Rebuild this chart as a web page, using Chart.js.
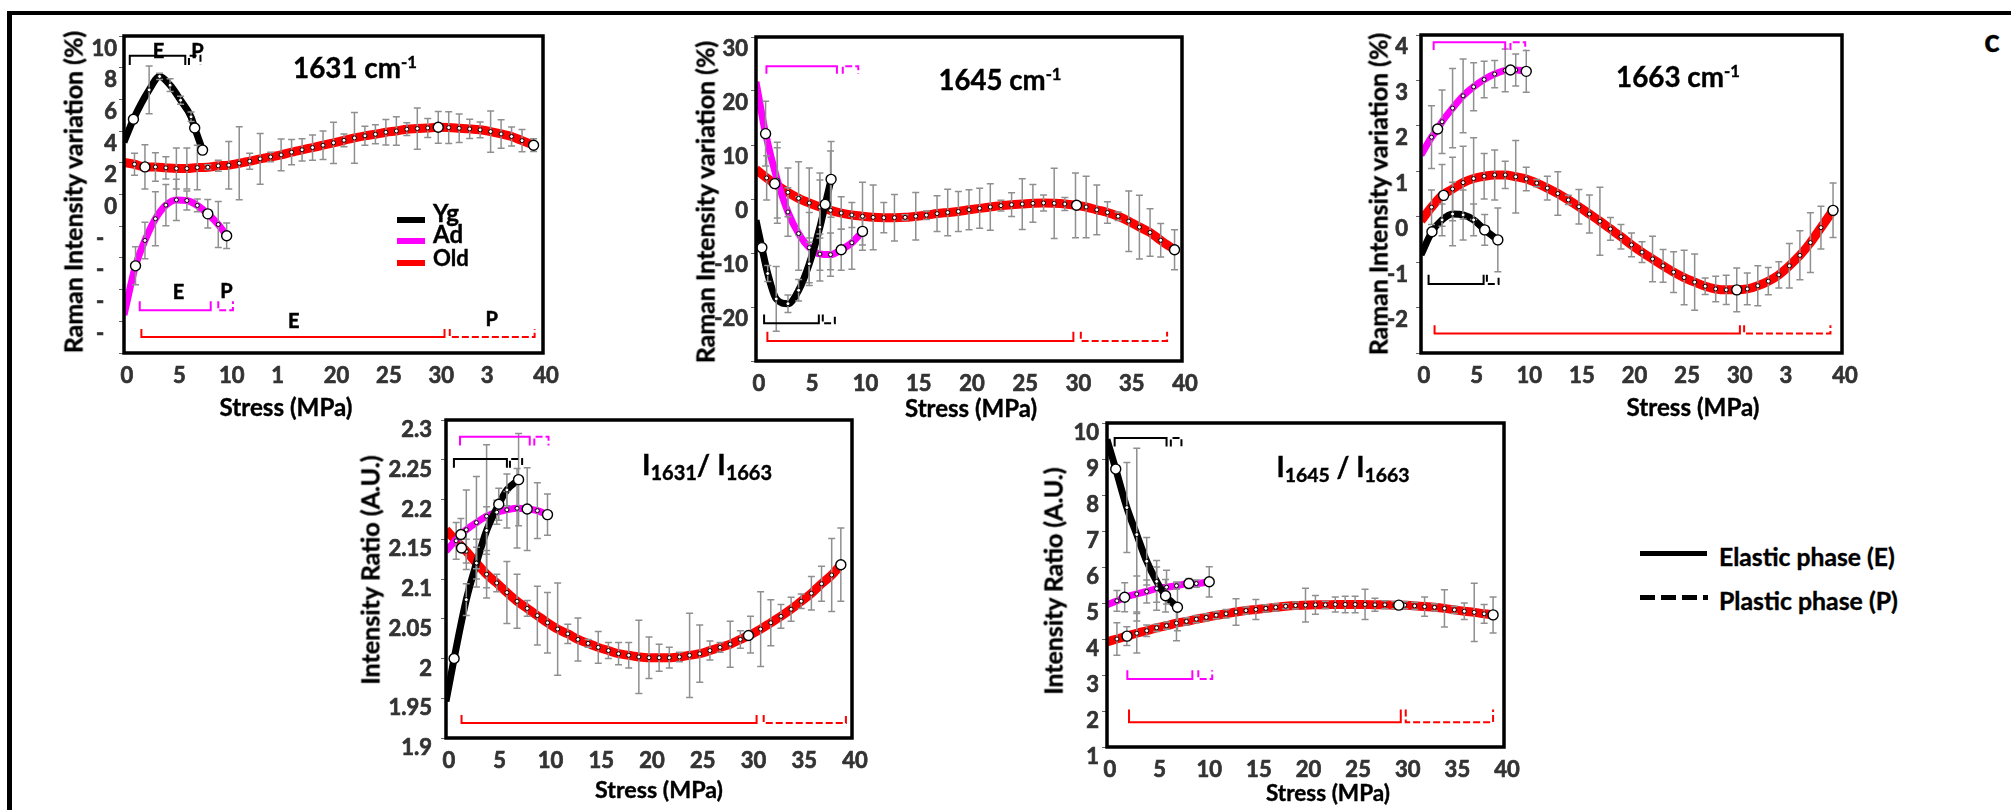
<!DOCTYPE html>
<html lang="en">
<head>
<meta charset="utf-8">
<title>Raman intensity variation vs stress</title>
<script src="https://cdn.jsdelivr.net/npm/chart.js@4.4.1/dist/chart.umd.min.js"></script>
<style>
  html, body { margin: 0; padding: 0; background: #fff; }
  body { position: relative; width: 2011px; height: 810px; overflow: hidden;
         font-family: Lato, "Open Sans", sans-serif; font-weight: 700; color: #000; }
  .sheet { position: absolute; left: 7px; top: 11px; width: 2100px; height: 900px;
           border-top: 4px solid #000; border-left: 5px solid #000; }
  canvas { position: absolute; }
  .t { position: absolute; line-height: 1; white-space: nowrap; transform: translate(-50%, -50%);
       -webkit-text-stroke: 0.4px #000; font-size: 24px; }
  .yt { transform: translate(-50%, -50%) rotate(-90deg); }
  .t sup { font-size: 0.6em; position: relative; top: -0.6em; vertical-align: baseline; line-height: 0; }
  .t sub { font-size: 0.7em; position: relative; top: 0.25em; vertical-align: baseline; line-height: 0; }
  .key { position: absolute; }
  .keytext { position: absolute; line-height: 1; transform: translateY(-50%); white-space: nowrap;
             -webkit-text-stroke: 0.4px #000; font-size: 24px; }
</style>
</head>
<body>
<div class="sheet"></div>

<canvas id="p1"></canvas>
<canvas id="p2"></canvas>
<canvas id="p3"></canvas>
<canvas id="p4"></canvas>
<canvas id="p5"></canvas>

<!-- panel titles (data-fit = printed width in px) -->
<div class="t" data-fit="124" style="left:355px;top:68px">1631 cm<sup>-1</sup></div>
<div class="t" data-fit="123" style="left:1000px;top:80px">1645 cm<sup>-1</sup></div>
<div class="t" data-fit="124" style="left:1678px;top:77px">1663 cm<sup>-1</sup></div>
<div class="t" data-fit="130" style="left:707px;top:464px">I<sub>1631</sub>/ I<sub>1663</sub></div>
<div class="t" data-fit="133" style="left:1343px;top:467px">I<sub>1645</sub> / I<sub>1663</sub></div>

<!-- axis titles -->
<div class="t yt" data-fit="323" style="left:73px;top:192px">Raman Intensity variation (%)</div>
<div class="t yt" data-fit="323" style="left:705px;top:202px">Raman Intensity variation (%)</div>
<div class="t yt" data-fit="323" style="left:1378px;top:194px">Raman Intensity variation (%)</div>
<div class="t yt" data-fit="230" style="left:370px;top:570px">Intensity Ratio (A.U.)</div>
<div class="t yt" data-fit="228" style="left:1053px;top:581px">Intensity Ratio (A.U.)</div>
<div class="t" data-fit="133" style="left:286px;top:407px">Stress (MPa)</div>
<div class="t" data-fit="132" style="left:971px;top:408px">Stress (MPa)</div>
<div class="t" data-fit="133" style="left:1693px;top:407px">Stress (MPa)</div>
<div class="t" data-fit="128" style="left:659px;top:790px">Stress (MPa)</div>
<div class="t" data-fit="124" style="left:1328px;top:793px">Stress (MPa)</div>

<!-- age legend inside first panel -->
<div class="key" style="left:397px;top:217px;width:28px;height:6px;background:#000"></div>
<div class="key" style="left:397px;top:238px;width:28px;height:6px;background:#ff00ff"></div>
<div class="key" style="left:397px;top:260px;width:28px;height:6px;background:#ff0000"></div>
<div class="keytext" style="left:433px;top:213px">Yg</div>
<div class="keytext" style="left:433px;top:234px">Ad</div>
<div class="keytext" data-fit="36" style="left:433px;top:258px">Old</div>

<!-- phase legend -->
<div class="key" style="left:1640px;top:551px;width:67px;height:5px;background:#000"></div>
<div class="key" style="left:1640px;top:595px;width:68px;height:5px;background:repeating-linear-gradient(to right,#000 0 15px,transparent 15px 21px)"></div>
<div class="keytext" data-fit="176" style="left:1719px;top:557px">Elastic phase (E)</div>
<div class="keytext" data-fit="179" style="left:1719px;top:600px">Plastic phase (P)</div>

<div class="t" style="left:1992px;top:40px;font-size:32px">c</div>

<script>
// ---------- data ----------
// panel 1 : 1631 cm-1, intensity variation (%)
const p1OldStress = [0, 1, 2, 3, 4, 5, 6, 7, 8, 9, 10, 11, 12, 13, 14, 15, 16, 17, 18, 19, 20, 21, 22, 23, 24, 25, 26, 27, 28, 29, 30, 31, 32, 33, 34, 35, 36, 37, 38, 39.1];
const p1OldValue = [2.02, 1.91, 1.74, 1.74, 1.68, 1.64, 1.64, 1.70, 1.72, 1.81, 1.85, 1.97, 2.10, 2.25, 2.37, 2.50, 2.67, 2.82, 2.96, 3.11, 3.26, 3.42, 3.57, 3.70, 3.80, 3.93, 4.01, 4.12, 4.16, 4.20, 4.24, 4.22, 4.18, 4.14, 4.08, 3.97, 3.82, 3.66, 3.40, 3.11];
const p1OldError = [null, 0.7, 1.4, 0.9, 0.7, 1.3, 1.3, 1.4, 0.15, 0.35, 1.5, 2.3, 0.5, 1.6, 0.3, 1.0, 0.8, 0.7, 0.8, 0.9, 1.3, 0.4, 1.6, 0.6, 0.6, 0.8, 0.9, 0.4, 1.3, 0.6, 1.0, 1.0, 0.9, 0.6, 0.5, 1.3, 0.9, 0.6, 0.7, 0.4];
const p1OldMarkX = [2, 30, 39.1];
const p1OldMarkY = [1.74, 4.24, 3.11];
const p1YgStress = [0, 0.9, 2.4, 3.4, 4.4, 5.4, 6.4, 6.75, 7.5];
const p1YgValue = [3.3, 4.75, 6.6, 7.45, 6.9, 5.95, 4.9, 4.2, 2.8];
const p1YgError = [null, null, 1.5, 0.2, 0.4, 0.25, 0.3, null, 0.25];
const p1YgMarkX = [0.9, 6.75, 7.5];
const p1YgMarkY = [4.75, 4.2, 2.8];
const p1AdStress = [0, 1.1, 2, 3, 4, 5, 6, 7, 8, 9, 9.8];
const p1AdValue = [-7.6, -4.5, -2.9, -1.53, -0.67, -0.34, -0.38, -0.69, -1.22, -1.89, -2.6];
const p1AdError = [null, 1.2, 1.15, 1.7, 1.3, 1.3, 0.6, 0.4, 0.9, 1.45, 0.8];
const p1AdMarkX = [1.1, 8, 9.8];
const p1AdMarkY = [-4.5, -1.22, -2.6];

// panel 2 : 1645 cm-1
const p2OldStress = [0, 1, 2, 3, 4, 5, 6, 7, 8, 9, 10, 11, 12, 13, 14, 15, 16, 17, 18, 19, 20, 21, 22, 23, 24, 25, 26, 27, 28, 29, 30, 31, 32, 33, 34, 35, 36, 37, 38, 39.3];
const p2OldValue = [5.5, 3.9, 2.5, 1.23, 0.12, -0.74, -1.48, -2.1, -2.6, -2.96, -3.2, -3.4, -3.46, -3.46, -3.4, -3.2, -3.0, -2.7, -2.5, -2.3, -2.0, -1.73, -1.48, -1.23, -1.05, -0.93, -0.8, -0.74, -0.8, -0.93, -1.17, -1.48, -2.0, -2.5, -3.2, -4.1, -5.2, -6.2, -7.65, -9.4];
const p2OldError = [null, 4.1, 7, 4.5, 6.8, 6.5, 5, 11, 3, 2.3, 6.3, 6, 2.8, 4.3, 0.5, 4.4, 0.8, 3.3, 4.3, 3.7, 3.7, 3.7, 4.3, 1, 2.2, 4.7, 3.5, 1.5, 6.5, 1.2, 6, 5.7, 4.6, 2, 0.8, 5.6, 5.9, 4.4, 3.1, 3.7];
const p2OldMarkX = [1.76, 30.1, 39.3];
const p2OldMarkY = [2.84, -1.17, -9.4];
const p2YgStress = [0, 0.55, 1.1, 1.9, 3, 4, 5, 6, 6.5, 7.05];
const p2YgValue = [-3.95, -9.0, -13.8, -18.5, -19.4, -16.9, -12, -5.2, -1.0, 3.64];
const p2YgError = [null, null, 1.5, 6, 1.6, 2, 4, 10, null, 7];
const p2YgMarkX = [0.55, 6.5, 7.05];
const p2YgMarkY = [-9.0, -1.0, 3.64];
const p2AdStress = [0, 0.9, 2, 3, 4, 5, 6, 7, 8, 9, 10];
const p2AdValue = [21.7, 12.1, 3.5, -2.4, -6.4, -9.0, -10.2, -10.3, -9.4, -8.1, -6.0];
const p2AdError = [null, 6, 7, 4.5, 6.8, 6.5, 3, 4, 3.8, 4.9, 2.5];
const p2AdMarkX = [0.9, 8, 10];
const p2AdMarkY = [12.1, -9.4, -6.0];

// panel 3 : 1663 cm-1
const p3OldStress = [0, 1, 2, 3, 4, 5, 6, 7, 8, 9, 10, 11, 12, 13, 14, 15, 16, 17, 18, 19, 20, 21, 22, 23, 24, 25, 26, 27, 28, 29, 30, 31, 32, 33, 34, 35, 36, 37, 38, 39.15];
const p3OldValue = [-0.09, 0.21, 0.47, 0.61, 0.75, 0.84, 0.89, 0.92, 0.92, 0.88, 0.83, 0.74, 0.63, 0.51, 0.37, 0.22, 0.06, -0.10, -0.27, -0.44, -0.62, -0.78, -0.93, -1.08, -1.22, -1.34, -1.44, -1.53, -1.59, -1.61, -1.61, -1.59, -1.52, -1.42, -1.28, -1.08, -0.85, -0.57, -0.24, 0.14];
const p3OldError = [null, 0.38, 0.68, 0.7, 0.8, 0.9, 0.5, 0.55, 0.3, 0.8, 0.26, 0.08, 0.26, 0.48, 0.1, 0.38, 0.42, 0.75, 0.25, 0.27, 0.26, 0.23, 0.5, 0.36, 0.45, 0.6, 0.62, 0.18, 0.28, 0.32, 0.48, 0.35, 0.44, 0.3, 0.29, 0.49, 0.54, 0.66, 0.47, 0.6];
const p3OldMarkX = [2.15, 30, 39.15];
const p3OldMarkY = [0.47, -1.61, 0.14];
const p3YgStress = [0, 1.04, 2, 3, 4, 5, 6.05, 7.3];
const p3YgValue = [-0.84, -0.33, -0.07, 0.06, 0.04, -0.07, -0.29, -0.51];
const p3YgError = [null, null, 0.35, 0.7, 0.55, 0.35, 0.34, 0.7];
const p3YgMarkX = [1.04, 6.05, 7.3];
const p3YgMarkY = [-0.33, -0.29, -0.51];
const p3AdStress = [0, 1, 1.58, 2, 3, 4, 5, 6, 7, 8, 8.5, 9, 10];
const p3AdValue = [1.36, 1.75, 1.93, 2.09, 2.39, 2.66, 2.86, 3.02, 3.14, 3.22, 3.23, 3.23, 3.2];
const p3AdError = [null, 0.69, null, 0.7, 0.87, 0.81, 0.53, 0.4, 0.3, 0.47, null, 0.35, 0.46];
const p3AdMarkX = [1.58, 8.5, 10];
const p3AdMarkY = [1.93, 3.23, 3.2];

// panel 4 : I1631 / I1663 ratio
const p4OldStress = [0, 1, 2, 3, 4, 5, 6, 7, 8, 9, 10, 11, 12, 13, 14, 15, 16, 17, 18, 19, 20, 21, 22, 23, 24, 25, 26, 27, 28, 29, 30, 31, 32, 33, 34, 35, 36, 37, 38, 38.9];
const p4OldValue = [2.162, 2.148, 2.135, 2.120, 2.106, 2.095, 2.083, 2.072, 2.063, 2.054, 2.045, 2.037, 2.031, 2.024, 2.019, 2.014, 2.010, 2.006, 2.004, 2.002, 2.001, 2.001, 2.001, 2.002, 2.004, 2.006, 2.010, 2.014, 2.018, 2.024, 2.030, 2.037, 2.045, 2.053, 2.062, 2.072, 2.082, 2.094, 2.105, 2.118];
const p4OldError = [null, 0.023, 0.015, 0.02, 0.03, 0.011, 0.039, 0.034, 0.01, 0.037, 0.038, 0.058, 0.012, 0.027, 0.005, 0.02, 0.01, 0.014, 0.016, 0.046, 0.026, 0.017, 0.013, 0.006, 0.053, 0.036, 0.012, 0.006, 0.029, 0.011, 0.023, 0.047, 0.029, 0.015, 0.015, 0.009, 0.021, 0.022, 0.046, 0.046];
const p4OldMarkX = [1.53, 29.8, 38.9];
const p4OldMarkY = [2.139, 2.029, 2.118];
const p4YgStress = [0, 0.8, 2, 3, 4, 5.2, 6, 7.15];
const p4YgValue = [1.946, 2.0, 2.074, 2.12, 2.161, 2.194, 2.212, 2.225];
const p4YgError = [null, null, 0.02, 0.03, 0.03, 0.02, 0.02, 0.058];
const p4YgMarkX = [0.8, 5.2, 7.15];
const p4YgMarkY = [2.0, 2.194, 2.225];
const p4AdStress = [0, 1.47, 2, 3, 4, 5, 6, 7, 8, 9, 10];
const p4AdValue = [2.135, 2.156, 2.162, 2.171, 2.179, 2.184, 2.187, 2.189, 2.188, 2.186, 2.181];
const p4AdError = [null, 0.02, 0.05, 0.058, 0.09, 0.015, 0.023, 0.05, 0.052, 0.035, 0.026];
const p4AdMarkX = [1.47, 8, 10];
const p4AdMarkY = [2.156, 2.188, 2.181];

// panel 5 : I1645 / I1663 ratio
const p5OldStress = [0, 1, 2, 3, 4, 5, 6, 7, 8, 9, 10, 11, 12, 13, 14, 15, 16, 17, 18, 19, 20, 21, 22, 23, 24, 25, 26, 27, 28, 29, 30, 31, 32, 33, 34, 35, 36, 37, 38, 38.9];
const p5OldValue = [3.92, 4.00, 4.08, 4.16, 4.23, 4.31, 4.37, 4.44, 4.49, 4.55, 4.60, 4.66, 4.70, 4.75, 4.79, 4.82, 4.85, 4.88, 4.91, 4.93, 4.94, 4.95, 4.95, 4.96, 4.96, 4.96, 4.96, 4.95, 4.95, 4.94, 4.94, 4.92, 4.90, 4.88, 4.85, 4.81, 4.77, 4.74, 4.70, 4.67];
const p5OldError = [null, 0.45, 0.26, 0.55, 0.16, 0.1, 0.1, 0.49, 0.1, 0.1, 0.1, 0.1, 0.12, 0.37, 0.1, 0.28, 0.1, 0.1, 0.07, 0.1, 0.47, 0.26, 0.1, 0.21, 0.23, 0.23, 0.42, 0.18, 0.11, 0.1, 0.1, 0.1, 0.27, 0.1, 0.52, 0.1, 0.23, 0.81, 0.26, 0.5];
const p5OldMarkX = [2.02, 29.4, 38.9];
const p5OldMarkY = [4.08, 4.94, 4.67];
const p5YgStress = [0, 0.88, 2, 3, 4, 5, 5.9, 7.1];
const p5YgValue = [9.54, 8.72, 7.65, 6.9, 6.16, 5.6, 5.2, 4.88];
const p5YgError = [null, null, 1.25, 2.4, 0.66, 0.58, 0.45, 0.65];
const p5YgMarkX = [0.88, 5.9, 7.1];
const p5YgMarkY = [8.72, 5.2, 4.88];
const p5AdStress = [0, 1, 1.78, 3, 4, 5, 6, 7, 8.25, 9, 10.3];
const p5AdValue = [4.95, 5.06, 5.16, 5.25, 5.32, 5.4, 5.44, 5.48, 5.54, 5.54, 5.59];
const p5AdError = [null, 0.29, 0.4, 0.5, 0.32, 0.6, 0.47, 0.1, 0.14, 0.1, 0.42];
const p5AdMarkX = [1.78, 8.25, 10.3];
const p5AdMarkY = [5.16, 5.54, 5.59];

// elastic / plastic stress ranges (MPa)
const p1Phases = {Yg: [[0.55, 5.85], [6.2, 7.3]], Ad: [[1.5, 8.28], [9.0, 10.4]], Old: [[1.66, 30.6], [31.1, 39.2]]};
const p2Phases = {Yg: [[0.76, 5.9], [6.27, 7.4]], Ad: [[0.98, 7.6], [8.15, 9.6]], Old: [[1.07, 29.8], [30.5, 38.6]]};
const p3Phases = {Yg: [[0.72, 5.95], [6.26, 7.37]], Ad: [[1.2, 8.0], [8.5, 9.9]], Old: [[1.29, 30.3], [30.7, 38.9]]};
const p4Phases = {Yg: [[0.78, 6.0], [6.3, 7.5]], Ad: [[1.38, 8.25], [8.7, 10.1]], Old: [[1.53, 30.6], [31.3, 39.4]]};
const p5Phases = {Yg: [[0.77, 6.0], [6.43, 7.5]], Ad: [[2.05, 8.6], [9.2, 10.6]], Old: [[2.22, 29.6], [30.1, 38.9]]};

// tick labels as printed
const xLabels = ['0', '5', '10', '15', '20', '25', '30', '35', '40'];
const p1XLabels = ['0', '5', '10', '1\u2007', '20', '25', '30', '3\u2007', '40'];
const p3XLabels = ['0', '5', '10', '15', '20', '25', '30', '3\u2007', '40'];
const p1YLabels = ['', '-\u2007', '-\u2007', '-\u2007', '-\u2007', '0', '2', '4', '6', '8', '10'];
const p2YLabels = ['', '-20', '-10', '0', '10', '20', '30'];
const p3YLabels = ['', '-2', '-1', '0', '1', '2', '3', '4'];
const p4YLabels = ['1.9', '1.95', '2', '2.05', '2.1', '2.15', '2.2', '2.25', '2.3'];
const p5YLabels = ['1', '2', '3', '4', '5', '6', '7', '8', '9', '10'];

// ---------- text sizing: match printed widths ----------
document.querySelectorAll('[data-fit]').forEach(el => {
  const size = parseFloat(getComputedStyle(el).fontSize);
  el.style.fontSize = (size * Number(el.dataset.fit) / el.offsetWidth).toFixed(2) + 'px';
});

// ---------- drawing ----------
const COLORS = {Yg: '#000000', Ad: '#ff00ff', Old: '#ff0000'};
const WIDTHS = {Yg: 7, Ad: 7, Old: 9};
const ORDERS = {Yg: 10, Ad: 20, Old: 30};
const AXIS_W = 72, AXIS_H = 44, PAD_T = 20, PAD_R = 26;
const TICK_FONT = {family: 'Lato', size: 22, weight: 'bold'};
Chart.defaults.font.family = 'Lato';

const errorBars = {
  id: 'errorBars',
  afterDatasetDraw(chart, args) {
    if (!chart.data.datasets[args.index].barsAfter) return;
    const {ctx, chartArea: a, scales: {x, y}} = chart;
    ctx.save();
    ctx.beginPath();
    ctx.rect(a.left, a.top, a.right - a.left, a.bottom - a.top);
    ctx.clip();
    ctx.strokeStyle = '#8f8f8f';
    ctx.lineWidth = 1.5;
    chart.data.datasets.forEach(ds => {
      if (!ds.errors) return;
      ds.data.forEach((p, i) => {
        const e = ds.errors[i];
        if (e == null) return;
        const px = x.getPixelForValue(p.x);
        const hi = y.getPixelForValue(p.y + e), lo = y.getPixelForValue(p.y - e);
        ctx.beginPath();
        ctx.moveTo(px, hi); ctx.lineTo(px, lo);
        ctx.moveTo(px - 3.5, hi); ctx.lineTo(px + 3.5, hi);
        ctx.moveTo(px - 3.5, lo); ctx.lineTo(px + 3.5, lo);
        ctx.stroke();
      });
    });
    ctx.restore();
  }
};

const frame = {
  id: 'frame',
  afterDraw(chart) {
    const {ctx, chartArea: a} = chart;
    ctx.save();
    ctx.strokeStyle = '#000';
    ctx.lineWidth = 3.5;
    ctx.strokeRect(a.left, a.top, a.right - a.left, a.bottom - a.top);
    ctx.restore();
  }
};

// brackets marking elastic (solid) and plastic (dashed) ranges
function phaseBrackets(phases, levels, labels) {
  return {
    id: 'phaseBrackets',
    afterDatasetsDraw(chart) {
      const {ctx, scales: {x, y}} = chart;
      ctx.save();
      ctx.lineWidth = 2;
      Object.keys(phases).forEach(name => {
        ctx.strokeStyle = COLORS[name];
        const [level, tip] = levels[name];
        phases[name].forEach(([from, to], k) => {
          ctx.setLineDash(k === 0 ? [] : [7, 3]);
          ctx.beginPath();
          ctx.moveTo(x.getPixelForValue(from), y.getPixelForValue(tip));
          ctx.lineTo(x.getPixelForValue(from), y.getPixelForValue(level));
          ctx.lineTo(x.getPixelForValue(to), y.getPixelForValue(level));
          ctx.lineTo(x.getPixelForValue(to), y.getPixelForValue(tip));
          ctx.stroke();
        });
      });
      ctx.setLineDash([]);
      ctx.fillStyle = '#000';
      ctx.strokeStyle = '#000';
      ctx.lineWidth = 0.5;
      ctx.font = 'bold 20px Lato';
      ctx.textAlign = 'center';
      ctx.textBaseline = 'middle';
      (labels || []).forEach(l => {
        const px = x.getPixelForValue(l[1]), py = y.getPixelForValue(l[2]);
        ctx.fillText(l[0], px, py);
        ctx.strokeText(l[0], px, py);
      });
      ctx.restore();
    }
  };
}

function series(name, xs, ys, errs, mx, my) {
  const pts = xs.map((v, i) => ({x: v, y: ys[i]}));
  return [
    {type: 'line', data: pts, errors: errs, borderColor: COLORS[name], borderWidth: WIDTHS[name],
     pointRadius: 0, cubicInterpolationMode: 'monotone', fill: false, clip: 0,
     order: ORDERS[name], barsAfter: name === 'Yg'},
    {type: 'scatter', data: pts.filter((p, i) => errs[i] != null), pointRadius: 2,
     pointBackgroundColor: '#fff', pointBorderColor: '#000', pointBorderWidth: 1, order: 5},
    {type: 'scatter', data: mx.map((v, i) => ({x: v, y: my[i]})), pointRadius: 5,
     pointBackgroundColor: '#fff', pointBorderColor: '#000', pointBorderWidth: 1.4, order: 0, clip: false}
  ];
}

function panel(id, area, yAxis, xTicks, datasets, plugins) {
  const [l, t, r, b] = area;
  const cv = document.getElementById(id);
  cv.width = r - l + AXIS_W + PAD_R;
  cv.height = b - t + PAD_T + AXIS_H;
  cv.style.left = (l - AXIS_W) + 'px';
  cv.style.top = (t - PAD_T) + 'px';
  return new Chart(cv, {
    type: 'scatter',
    data: {datasets},
    options: {
      responsive: false,
      animation: false,
      devicePixelRatio: 1,
      events: [],
      layout: {padding: {left: 0, top: PAD_T, right: PAD_R, bottom: 0}},
      plugins: {legend: {display: false}, tooltip: {enabled: false}},
      scales: {
        x: {
          type: 'linear', min: 0, max: 40,
          afterFit(s) { s.height = AXIS_H; s.paddingLeft = 0; s.paddingRight = 0; },
          grid: {display: false, drawTicks: false},
          border: {display: false},
          ticks: {stepSize: 5, padding: 10, labelOffset: 3, color: '#333', font: TICK_FONT,
                  textStrokeColor: '#333', textStrokeWidth: 0.7,
                  autoSkip: false, maxRotation: 0, callback: (v, i) => xTicks[i]}
        },
        y: {
          type: 'linear', min: yAxis.min, max: yAxis.max,
          afterFit(s) { s.width = AXIS_W; s.paddingTop = 0; s.paddingBottom = 0; },
          grid: {drawOnChartArea: false, drawTicks: true, tickLength: 5, color: '#666', lineWidth: 1},
          border: {display: false},
          ticks: {stepSize: yAxis.step, padding: yAxis.pad, labelOffset: yAxis.shift, color: '#333',
                  textStrokeColor: '#333', textStrokeWidth: 0.7,
                  font: TICK_FONT, autoSkip: false, callback: (v, i) => yAxis.labels[i]}
        }
      }
    },
    plugins: [errorBars].concat(plugins, [frame])
  });
}

panel('p1', [124, 36, 543, 353],
  {min: -10, max: 10, step: 2, pad: 2, shift: 12.5, labels: p1YLabels}, p1XLabels,
  [].concat(series('Old', p1OldStress, p1OldValue, p1OldError, p1OldMarkX, p1OldMarkY),
            series('Ad', p1AdStress, p1AdValue, p1AdError, p1AdMarkX, p1AdMarkY),
            series('Yg', p1YgStress, p1YgValue, p1YgError, p1YgMarkX, p1YgMarkY)),
  [phaseBrackets(p1Phases, {Yg: [8.76, 8.17], Ad: [-7.31, -6.74], Old: [-8.99, -8.49]},
    [['E', 3.3, 9.05], ['P', 7.0, 9.0], ['E', 5.2, -6.18], ['P', 9.78, -6.11], ['E', 16.2, -8.0], ['P', 35.1, -7.9]])]);

panel('p2', [756, 37, 1182, 361],
  {min: -30, max: 30, step: 10, pad: 3, shift: 12, labels: p2YLabels}, xLabels,
  [].concat(series('Old', p2OldStress, p2OldValue, p2OldError, p2OldMarkX, p2OldMarkY),
            series('Ad', p2AdStress, p2AdValue, p2AdError, p2AdMarkX, p2AdMarkY),
            series('Yg', p2YgStress, p2YgValue, p2YgError, p2YgMarkX, p2YgMarkY)),
  [phaseBrackets(p2Phases, {Yg: [-23.0, -21.4], Ad: [24.6, 23.2], Old: [-26.3, -24.6]})]);

panel('p3', [1421, 35, 1842, 353],
  {min: -3, max: 4, step: 1, pad: 8, shift: 12.4, labels: p3YLabels}, p3XLabels,
  [].concat(series('Old', p3OldStress, p3OldValue, p3OldError, p3OldMarkX, p3OldMarkY),
            series('Ad', p3AdStress, p3AdValue, p3AdError, p3AdMarkX, p3AdMarkY),
            series('Yg', p3YgStress, p3YgValue, p3YgError, p3YgMarkX, p3YgMarkY)),
  [phaseBrackets(p3Phases, {Yg: [-1.48, -1.28], Ad: [3.84, 3.67], Old: [-2.57, -2.39]})]);

panel('p4', [446, 420, 852, 738],
  {min: 1.9, max: 2.3, step: 0.05, pad: 9, shift: 10, labels: p4YLabels}, xLabels,
  [].concat(series('Old', p4OldStress, p4OldValue, p4OldError, p4OldMarkX, p4OldMarkY),
            series('Ad', p4AdStress, p4AdValue, p4AdError, p4AdMarkX, p4AdMarkY),
            series('Yg', p4YgStress, p4YgValue, p4YgError, p4YgMarkX, p4YgMarkY)),
  [phaseBrackets(p4Phases, {Yg: [2.251, 2.24], Ad: [2.279, 2.268], Old: [1.919, 1.929]})]);

panel('p5', [1107, 423, 1504, 747],
  {min: 1, max: 10, step: 1, pad: 3, shift: 10, labels: p5YLabels}, xLabels,
  [].concat(series('Old', p5OldStress, p5OldValue, p5OldError, p5OldMarkX, p5OldMarkY),
            series('Ad', p5AdStress, p5AdValue, p5AdError, p5AdMarkX, p5AdMarkY),
            series('Yg', p5YgStress, p5YgValue, p5YgError, p5YgMarkX, p5YgMarkY)),
  [phaseBrackets(p5Phases, {Yg: [9.58, 9.35], Ad: [2.89, 3.13], Old: [1.69, 2.04]})]);
</script>
</body>
</html>
